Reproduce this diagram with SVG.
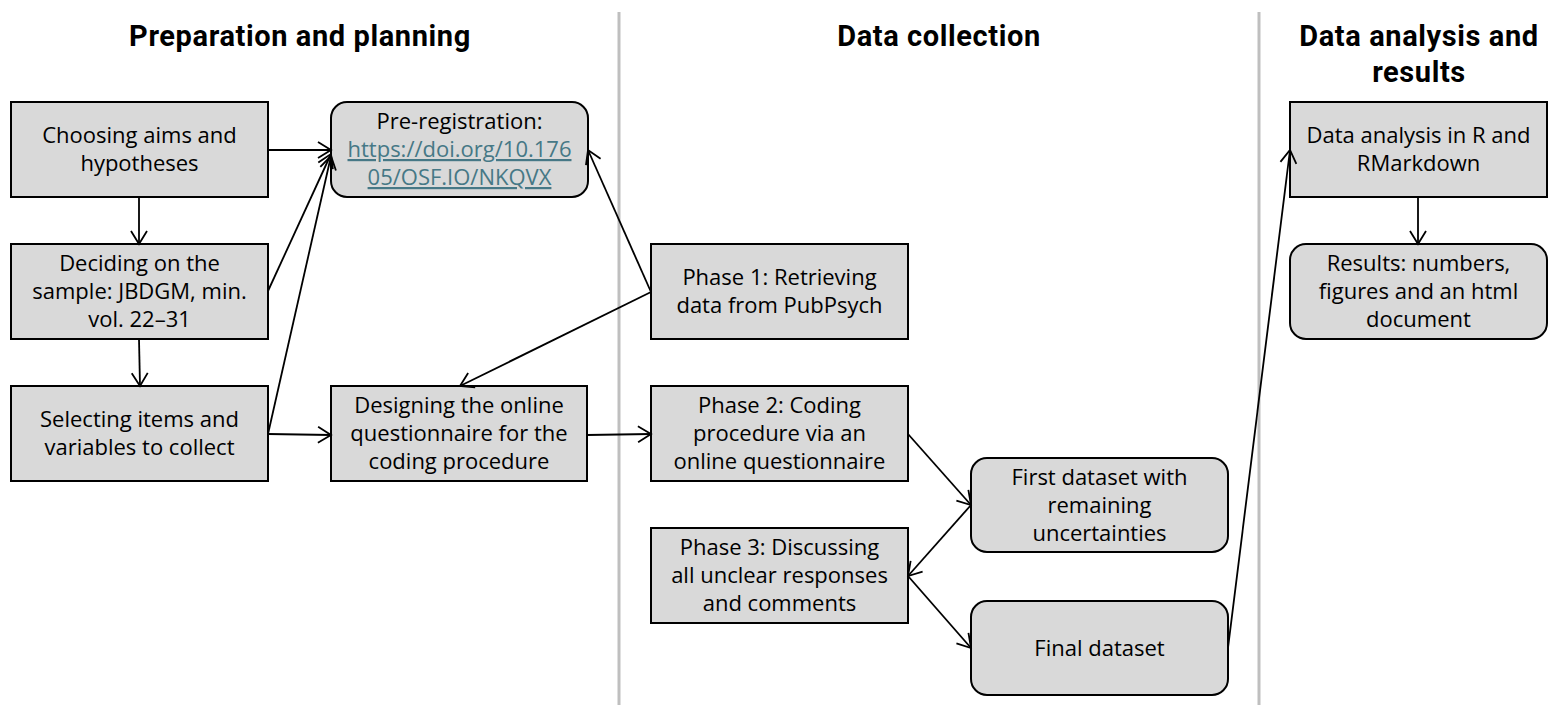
<svg xmlns="http://www.w3.org/2000/svg" width="1559" height="713" viewBox="0 0 1559 713">
<style>
.box{fill:#d9d9d9;stroke:#000;stroke-width:2}
.t{font-family:"Open Sans","Liberation Sans",sans-serif;font-size:22px;fill:#000;text-anchor:middle}
.h{font-family:"Roboto","Liberation Sans",sans-serif;font-size:29px;font-weight:bold;letter-spacing:0.6px;fill:#000;text-anchor:middle}
.lnk{fill:#467886;text-decoration:underline}
.c{stroke:#000;stroke-width:1.8;fill:none;marker-end:url(#arr)}
.div{stroke:#bfbfbf;stroke-width:3}
</style>
<defs>
<marker id="arr" markerUnits="userSpaceOnUse" viewBox="-16 -10 18 20" refX="0" refY="0" markerWidth="18" markerHeight="20" orient="auto">
<path d="M-13,-8 L0,0 L-13,8" fill="none" stroke="#000" stroke-width="1.8"/>
</marker>
</defs>
<rect width="1559" height="713" fill="#fff"/>
<g id="dividers">
<line class="div" x1="619" y1="12" x2="619" y2="705"/>
<line class="div" x1="1259" y1="12" x2="1259" y2="705"/>
</g>
<g id="titles">
<text class="h" x="300" y="46">Preparation and planning</text>
<text class="h" x="939" y="46">Data collection</text>
<text class="h" x="1419" y="46">Data analysis and</text>
<text class="h" x="1419" y="82">results</text>
</g>
<g id="n1"><rect class="box" x="11" y="102" width="257" height="95"/>
<text class="t" x="139.5" y="143">Choosing aims and</text><text class="t" x="139.5" y="171">hypotheses</text></g>
<g id="n2"><rect class="box" x="11" y="244" width="257" height="95"/>
<text class="t" x="139.5" y="271">Deciding on the</text><text class="t" x="139.5" y="299">sample: JBDGM, min.</text><text class="t" x="139.5" y="327">vol. 22–31</text></g>
<g id="n3"><rect class="box" x="11" y="386" width="257" height="95"/>
<text class="t" x="139.5" y="427">Selecting items and</text><text class="t" x="139.5" y="455">variables to collect</text></g>
<g id="n4"><rect class="box" x="331" y="102" width="257" height="95" rx="16"/>
<text class="t" x="459.5" y="129">Pre-registration:</text><text class="t lnk" x="459.5" y="157">https://doi.org/10.176</text><text class="t lnk" x="459.5" y="185">05/OSF.IO/NKQVX</text></g>
<g id="n5"><rect class="box" x="331" y="386" width="256" height="95"/>
<text class="t" x="459" y="413">Designing the online</text><text class="t" x="459" y="441">questionnaire for the</text><text class="t" x="459" y="469">coding procedure</text></g>
<g id="n6"><rect class="box" x="651" y="244" width="257" height="95"/>
<text class="t" x="779.5" y="285">Phase 1: Retrieving</text><text class="t" x="779.5" y="313">data from PubPsych</text></g>
<g id="n7"><rect class="box" x="651" y="386" width="257" height="95"/>
<text class="t" x="779.5" y="413">Phase 2: Coding</text><text class="t" x="779.5" y="441">procedure via an</text><text class="t" x="779.5" y="469">online questionnaire</text></g>
<g id="n8"><rect class="box" x="651" y="528" width="257" height="95"/>
<text class="t" x="779.5" y="555">Phase 3: Discussing</text><text class="t" x="779.5" y="583">all unclear responses</text><text class="t" x="779.5" y="611">and comments</text></g>
<g id="n9"><rect class="box" x="971" y="458" width="257" height="94" rx="16"/>
<text class="t" x="1099.5" y="485">First dataset with</text><text class="t" x="1099.5" y="513">remaining</text><text class="t" x="1099.5" y="541">uncertainties</text></g>
<g id="n10"><rect class="box" x="971" y="601" width="257" height="94" rx="16"/>
<text class="t" x="1099.5" y="656">Final dataset</text></g>
<g id="n11"><rect class="box" x="1290" y="102" width="257" height="95"/>
<text class="t" x="1418.5" y="143">Data analysis in R and</text><text class="t" x="1418.5" y="171">RMarkdown</text></g>
<g id="n12"><rect class="box" x="1290" y="244" width="257" height="95" rx="16"/>
<text class="t" x="1418.5" y="271">Results: numbers,</text><text class="t" x="1418.5" y="299">figures and an html</text><text class="t" x="1418.5" y="327">document</text></g>
<g id="connectors">
<line class="c" x1="268" y1="150" x2="331" y2="150"/>
<line class="c" x1="139" y1="197" x2="139" y2="244"/>
<line class="c" x1="139" y1="339" x2="140" y2="386"/>
<line class="c" x1="268" y1="291" x2="331" y2="154"/>
<line class="c" x1="268" y1="434" x2="331" y2="156"/>
<line class="c" x1="268" y1="434" x2="331" y2="435"/>
<line class="c" x1="587" y1="435" x2="651" y2="434"/>
<line class="c" x1="651" y1="292" x2="588" y2="150"/>
<line class="c" x1="651" y1="292" x2="460" y2="386"/>
<line class="c" x1="908" y1="434" x2="971" y2="505"/>
<line class="c" x1="971" y1="505" x2="908" y2="576"/>
<line class="c" x1="908" y1="576" x2="971" y2="648"/>
<line class="c" x1="1228" y1="648" x2="1290" y2="150"/>
<line class="c" x1="1418" y1="197" x2="1418" y2="244"/>
</g>
</svg>
